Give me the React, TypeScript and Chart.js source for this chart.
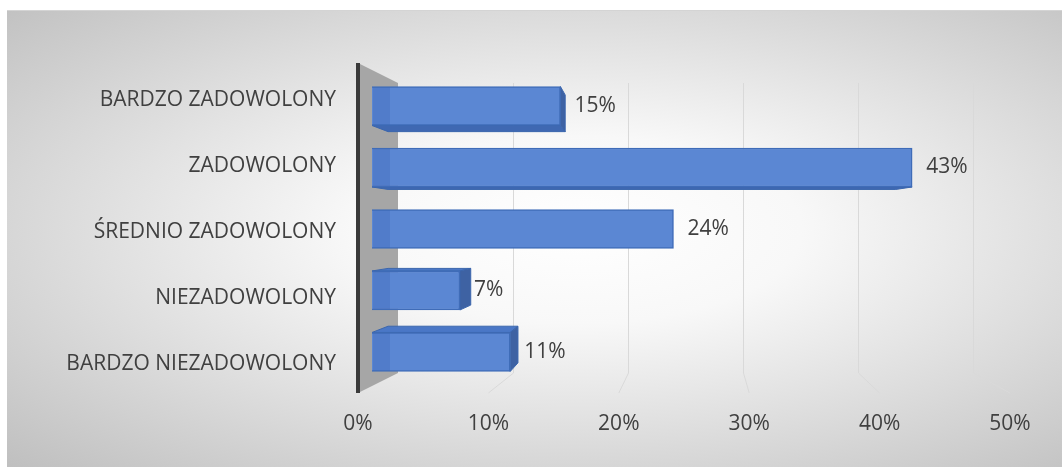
import { useEffect, useRef } from 'react';
import { Chart, registerables } from 'chart.js';
Chart.register(...registerables);

const categories = ['BARDZO ZADOWOLONY', 'ZADOWOLONY', 'ŚREDNIO ZADOWOLONY', 'NIEZADOWOLONY', 'BARDZO NIEZADOWOLONY'];
const values = [15, 43, 24, 7, 11];
const xTickValues = [0, 10, 20, 30, 40, 50];
const gridValues = [10, 20, 30, 40, 50];

const FONT = "'Open Sans', sans-serif";
const TEXT = '#404040';
const FONT_SIZE = 21;

export default function App() {
  const ref = useRef<HTMLCanvasElement>(null);
  useEffect(() => {
    if (!ref.current) return;
    const VP = { x: 633, y: 217 };
    const T = 0.06;
    const DEPTH = 20;

    const scenePlugin = {
      id: 'scene3d',
      beforeDatasetsDraw(chart: any) {
        const { ctx, chartArea: a, scales } = chart;
        const xg = scales.xg;
        const xl = scales.xl;
        const backTop = a.top + DEPTH;
        const backBottom = a.bottom - DEPTH;
        const backX = xg.getPixelForValue(0);
        ctx.save();
        // grid lines (back plane + floor)
        ctx.strokeStyle = '#d9d9d9';
        ctx.lineWidth = 1;
        gridValues.forEach((v) => {
          const gx = Math.round(xg.getPixelForValue(v)) + 0.5;
          ctx.beginPath();
          ctx.moveTo(gx, backTop);
          ctx.lineTo(gx, backBottom);
          ctx.lineTo(xl.getPixelForValue(v), a.bottom);
          ctx.stroke();
        });
        // side wall
        ctx.fillStyle = '#a6a6a6';
        ctx.beginPath();
        ctx.moveTo(a.left, a.top);
        ctx.lineTo(backX, backTop);
        ctx.lineTo(backX, backBottom);
        ctx.lineTo(a.left, a.bottom);
        ctx.closePath();
        ctx.fill();
        ctx.fillStyle = '#3a3a3a';
        ctx.fillRect(a.left - 2, a.top, 4, a.bottom - a.top);

        // bar side faces
        const meta = chart.getDatasetMeta(0);
        meta.data.forEach((el: any) => {
          const { x, y, base, height } = el.getProps(['x', 'y', 'base', 'height'], true);
          const l = Math.min(base, x);
          const r = Math.max(base, x);
          const t = y - height / 2;
          const b = y + height / 2;
          const bk = (px: number, py: number) => [px + T * (VP.x - px), py + T * (VP.y - py)];
          const poly = (pts: number[][], color: string) => {
            ctx.beginPath();
            ctx.moveTo(pts[0][0], pts[0][1]);
            for (let i = 1; i < pts.length; i++) ctx.lineTo(pts[i][0], pts[i][1]);
            ctx.closePath();
            ctx.fillStyle = color;
            ctx.fill();
            ctx.strokeStyle = '#3b66ad';
            ctx.lineWidth = 1;
            ctx.stroke();
          };
          if (t > VP.y) {
            poly([[l, t], [r, t], bk(r, t), bk(l, t)], '#4a77c6');
          }
          if (b < VP.y) {
            poly([[l, b], [r, b], bk(r, b), bk(l, b)], '#3f68b2');
          }
          if (r < VP.x) {
            poly([[r, t], [r, b], bk(r, b), bk(r, t)], '#3e62a3');
          }
        });
        ctx.restore();
      },
      afterDatasetsDraw(chart: any) {
        const { ctx } = chart;
        const meta = chart.getDatasetMeta(0);
        ctx.save();
        meta.data.forEach((el: any, i: number) => {
          const { x, y, base, height } = el.getProps(['x', 'y', 'base', 'height'], true);
          ctx.fillStyle = 'rgba(40,80,160,0.18)';
          ctx.fillRect(base + 1, y - height / 2 + 1, 17, height - 2);
          ctx.fillStyle = TEXT;
          ctx.font = `${FONT_SIZE}px ${FONT}`;
          ctx.textAlign = 'left';
          ctx.textBaseline = 'middle';
          ctx.fillText(`${values[i]}%`, x + 14, y);
        });
        ctx.restore();
      },
    };

    const chart = new Chart(ref.current, {
      type: 'bar',
      data: {
        labels: categories,
        datasets: [
          {
            data: values.map((v, i) => ({ x: v, y: i })) as any,
            xAxisID: 'x',
            yAxisID: 'y',
            backgroundColor: '#5b87d3',
            borderColor: '#3f6cb8',
            borderWidth: 1.5,
            barThickness: 39,
          },
        ],
      },
      options: {
        indexAxis: 'y',
        animation: false,
        responsive: true,
        maintainAspectRatio: false,
        layout: { padding: { top: 52, right: 22, left: 0, bottom: 0 } },
        plugins: { legend: { display: false }, tooltip: { enabled: false } },
        scales: {
          x: { type: 'linear', axis: 'x', position: 'bottom', min: -1.115, max: 53.18, display: false },
          xg: { type: 'linear', axis: 'x', position: 'bottom', min: -3.478, max: 55.83, display: false },
          xl: {
            type: 'linear',
            axis: 'x',
            position: 'bottom',
            min: 0,
            max: 52.3,
            grid: { display: false, drawTicks: false },
            border: { display: false },
            ticks: {
              font: { family: FONT, size: FONT_SIZE },
              color: TEXT,
              padding: 18,
              autoSkip: false,
              maxRotation: 0,
              callback: (v: any) => `${v}%`,
            },
            afterBuildTicks: (s: any) => {
              s.ticks = xTickValues.map((v) => ({ value: v }));
            },
            afterFit: (s: any) => {
              s.height = 74;
            },
          },
          y: { type: 'linear', axis: 'y', position: 'left', reverse: true, offset: false, min: -0.699, max: 4.667, display: false },
          yl: {
            type: 'category',
            axis: 'y',
            position: 'left',
            labels: categories,
            offset: true,
            grid: { display: false, drawTicks: false },
            border: { display: false },
            ticks: { font: { family: FONT, size: FONT_SIZE }, color: TEXT, padding: 22, labelOffset: 4 },
            afterFit: (s: any) => {
              s.width = 351;
            },
          },
        } as any,
      },
      plugins: [scenePlugin],
    });
    return () => chart.destroy();
  }, []);

  return (
    <div
      style={{
        position: 'absolute',
        left: 7,
        top: 11,
        width: 1055,
        height: 456,
        background: 'radial-gradient(ellipse farthest-corner at 54% 48%, #ffffff 0%, #f8f8f8 28%, #bfbfbf 100%)',
        boxShadow: '0 -1px 0 #d4d4d4',
      }}
    >
      <canvas ref={ref} />
    </div>
  );
}
